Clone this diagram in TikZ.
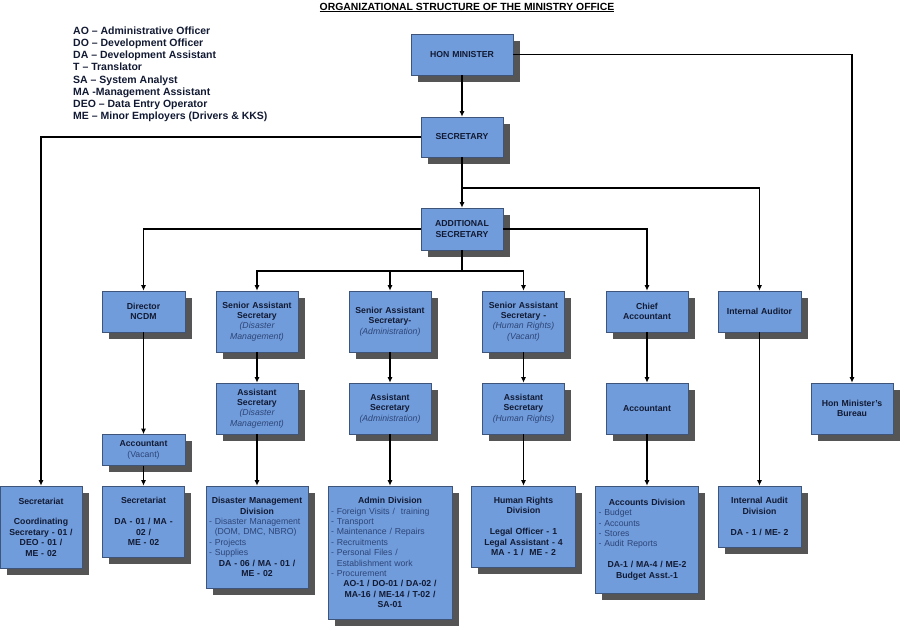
\documentclass[tikz,border=0pt]{standalone}
\usepackage{fontspec}
\setmainfont{Liberation Sans}
\usetikzlibrary{arrows.meta,shadows}

\definecolor{boxfill}{HTML}{709CDB}
\definecolor{boxline}{HTML}{3E5478}
\definecolor{shadowgray}{HTML}{555555}
\definecolor{boxtext}{HTML}{121A33}
\definecolor{subtext}{HTML}{2E4577}

\newcommand{\sublabel}[1]{{\mdseries\itshape\color{subtext}#1}}
\newcommand{\plainlabel}[1]{{\mdseries\color{subtext}#1}}

\tikzset{
  orgbox/.style={draw=boxline, fill=boxfill, line width=0.6pt,
    general shadow={fill=shadowgray, shadow xshift=6.5pt, shadow yshift=-6.5pt},
    align=center, inner sep=3pt, text=boxtext,
    font=\fontsize{8.7}{10.4}\selectfont\bfseries},
  link/.style={draw=black, line width=1.1pt},
  arrowlink/.style={link, -{Latex[length=5.5pt,width=5pt]}}
}

\begin{document}
\begin{tikzpicture}[x=1pt,y=-1pt]
  \useasboundingbox (0,0) rectangle (900,640);

  % title and legend
  \node (title) at (467,7.5) {\fontsize{10.4}{12}\selectfont\bfseries\underline{ORGANIZATIONAL STRUCTURE OF THE MINISTRY OFFICE}};
  \node[anchor=north west, inner sep=0pt, align=left, text=boxtext,
        font=\fontsize{10.5}{12.2}\selectfont\bfseries] (legend) at (73,26.5)
    {AO -- Administrative Officer\\
     DO -- Development Officer\\
     DA -- Development Assistant\\
     T -- Translator\\
     SA -- System Analyst\\
     MA -Management Assistant\\
     DEO -- Data Entry Operator\\
     ME -- Minor Employers (Drivers \& KKS)};

  % top
  \node[orgbox, text width=96pt, minimum height=41pt] (hm) at (462,54.5) {HON MINISTER};
  \node[orgbox, text width=76pt, minimum height=40pt] (sec) at (462,137) {SECRETARY};
  \node[orgbox, text width=76pt, minimum height=42pt] (addsec) at (462,229) {ADDITIONAL\\SECRETARY};

  % second row
  \node[orgbox, text width=77pt, minimum height=41pt] (ncdm) at (143.5,311.5) {Director\\NCDM};
  \node[orgbox, text width=76pt, minimum height=61pt] (sas1) at (257,321.5)
    {Senior Assistant\\Secretary\\\sublabel{(Disaster}\\\sublabel{Management)}};
  \node[orgbox, text width=76pt, minimum height=61pt] (sas2) at (390,321.5)
    {Senior Assistant\\Secretary-\\\sublabel{(Administration)}};
  \node[orgbox, text width=76pt, minimum height=61pt] (sas3) at (523.5,321.5)
    {Senior Assistant\\Secretary -\\\sublabel{(Human Rights)}\\\sublabel{(Vacant)}};
  \node[orgbox, text width=76pt, minimum height=41pt] (ca) at (647,311.5) {Chief\\Accountant};
  \node[orgbox, text width=77pt, minimum height=41pt] (ia) at (759.5,311.5) {Internal Auditor};

  % third row
  \node[orgbox, text width=77pt, minimum height=31pt] (accv) at (143.5,450) {Accountant\\\plainlabel{(Vacant)}};
  \node[orgbox, text width=76pt, minimum height=51pt] (as1) at (257,408.5)
    {Assistant\\Secretary\\\sublabel{(Disaster}\\\sublabel{Management)}};
  \node[orgbox, text width=76pt, minimum height=51pt] (as2) at (390,408.5)
    {Assistant\\Secretary\\\sublabel{(Administration)}};
  \node[orgbox, text width=76pt, minimum height=51pt] (as3) at (523.5,408.5)
    {Assistant\\Secretary\\\sublabel{(Human Rights)}};
  \node[orgbox, text width=76pt, minimum height=51pt] (acc) at (647,408.5) {Accountant};
  \node[orgbox, text width=76pt, minimum height=51pt] (hmb) at (852,408.5) {Hon Minister's\\Bureau};

  % divisions
  \node[orgbox, text width=76pt, minimum height=82pt] (sct1) at (41,527)
    {Secretariat\\[10.4pt]Coordinating\\Secretary - 01 /\\DEO - 01 /\\ME - 02};
  \node[orgbox, text width=76pt, minimum height=71pt] (sct2) at (143.5,521.5)
    {Secretariat\\[10.4pt]DA - 01 / MA -\\02 /\\ME - 02};
  \node[orgbox, text width=96pt, minimum height=102pt] (dmd) at (257,537)
    {Disaster Management\\Division\par
     {\raggedright\mdseries\color{subtext}- Disaster Management\\\phantom{- }(DOM, DMC, NBRO)\\- Projects\\- Supplies\par}
     DA - 06 / MA - 01 /\\ME - 02};
  \node[orgbox, text width=118pt, minimum height=133pt] (adm) at (390,552.5)
    {Admin Division\par
     {\raggedright\mdseries\color{subtext}- Foreign Visits /~ training\\- Transport\\- Maintenance / Repairs\\- Recruitments\\- Personal Files /\\\phantom{- }Establishment work\\- Procurement\par}
     AO-1 / DO-01 / DA-02 /\\MA-16 / ME-14 / T-02 /\\SA-01};
  \node[orgbox, text width=98pt, minimum height=81pt] (hrd) at (523.5,526.5)
    {Human Rights\\Division\\[10.4pt]Legal Officer - 1\\Legal Assistant - 4\\MA - 1 /~ ME - 2};
  \node[orgbox, text width=97pt, minimum height=107pt] (acd) at (647,539.5)
    {Accounts Division\par
     {\raggedright\mdseries\color{subtext}- Budget\\- Accounts\\- Stores\\- Audit Reports\par}
     \vspace{10.4pt}DA-1 / MA-4 / ME-2\\Budget Asst.-1};
  \node[orgbox, text width=77pt, minimum height=61pt] (iad) at (759.5,516.5)
    {Internal Audit\\Division\\[10.4pt]DA - 1 / ME- 2};

  % junctions
  \coordinate (j1) at (462,188);
  \coordinate (j2) at (462,271);

  % connectors
  \draw[arrowlink] (hm) -- (sec);
  \draw[arrowlink] (sec) -- (addsec);
  \draw[arrowlink] (hm.east) -| (hmb.north);
  \draw[arrowlink] (sec.west) -| (sct1.north);
  \draw[arrowlink] (j1) -| (ia.north);
  \draw[arrowlink] (addsec.west) -| (ncdm.north);
  \draw[arrowlink] (addsec.east) -| (ca.north);
  \draw[link] (addsec.south) -- (j2);

  \foreach \to in {sas1,sas2,sas3}
    \draw[arrowlink] (j2) -| (\to.north);

  \foreach \from/\to in {ncdm/accv,accv/sct2,
    sas1/as1,as1/dmd,sas2/as2,as2/adm,sas3/as3,as3/hrd,
    ca/acc,acc/acd,ia/iad}
    \draw[arrowlink] (\from) -- (\to);
\end{tikzpicture}
\end{document}
